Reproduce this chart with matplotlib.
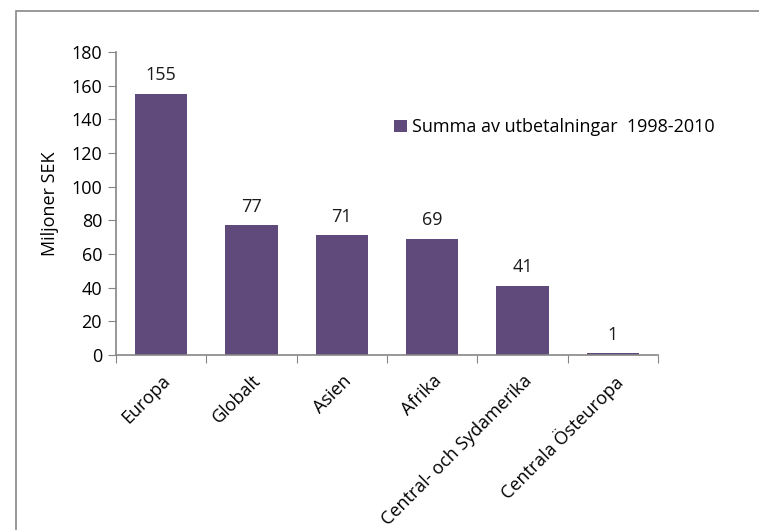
import matplotlib.pyplot as plt
import numpy as np
from matplotlib.patches import Rectangle

# Utbetalningar per region, miljoner SEK
regioner = ["Europa", "Globalt", "Asien", "Afrika", "Central- och Sydamerika", "Centrala Östeuropa"]
belopp = [155, 77, 71, 69, 41, 1]
serie_namn = "Summa av utbetalningar  1998-2010"

bar_color = "#604A7B"
axis_color = "#868686"
fs = 13

plt.rcParams["font.family"] = ["Open Sans", "DejaVu Sans"]

fig = plt.figure(figsize=(7.59, 5.30), dpi=100)
# outer chart border
fig.patches.append(Rectangle((16 / 759, -0.01), 1.0, 1 - 11 / 530 + 0.01,
                             transform=fig.transFigure, fill=False,
                             edgecolor="#888888", linewidth=1.2))

ax = fig.add_axes([116 / 759, 1 - 355 / 530, (658 - 116) / 759, (355 - 52) / 530])

x = np.arange(len(regioner))
bars = ax.bar(x, belopp, width=0.58, color=bar_color, label=serie_namn, zorder=2)

for xi, v in zip(x, belopp):
    ax.annotate(f"{v}", (xi, v), xytext=(0, 7), textcoords="offset points",
                ha="center", va="bottom", fontsize=fs, color="#1a1a1a")

ax.set_xlim(-0.5, len(regioner) - 0.5)
ax.set_ylim(0, 180)
ax.set_yticks(np.arange(0, 181, 20))
ax.set_xticks(np.arange(-0.5, len(regioner), 1.0), minor=False)
ax.set_xticklabels([])
ax.set_xticks(x, minor=True)
ax.set_xticklabels(regioner, minor=True, rotation=45, ha="right", rotation_mode="anchor",
                   fontsize=fs)
ax.tick_params(axis="x", which="minor", length=0, pad=12)
ax.tick_params(axis="x", which="major", length=6, color=axis_color, direction="out")
ax.tick_params(axis="y", length=6, color=axis_color, labelsize=fs, pad=4)

for side in ["top", "right"]:
    ax.spines[side].set_visible(False)
for side in ["left", "bottom"]:
    ax.spines[side].set_color(axis_color)
    ax.spines[side].set_linewidth(1.2)

ax.set_ylabel("Miljoner SEK", fontsize=fs, labelpad=9)

ax.legend(loc="upper left", bbox_to_anchor=(0.5, 0.805), frameon=False, fontsize=fs,
          handlelength=0.7, handleheight=0.7, handletextpad=0.3, borderaxespad=0)

fig.savefig("out.png", dpi=100)
